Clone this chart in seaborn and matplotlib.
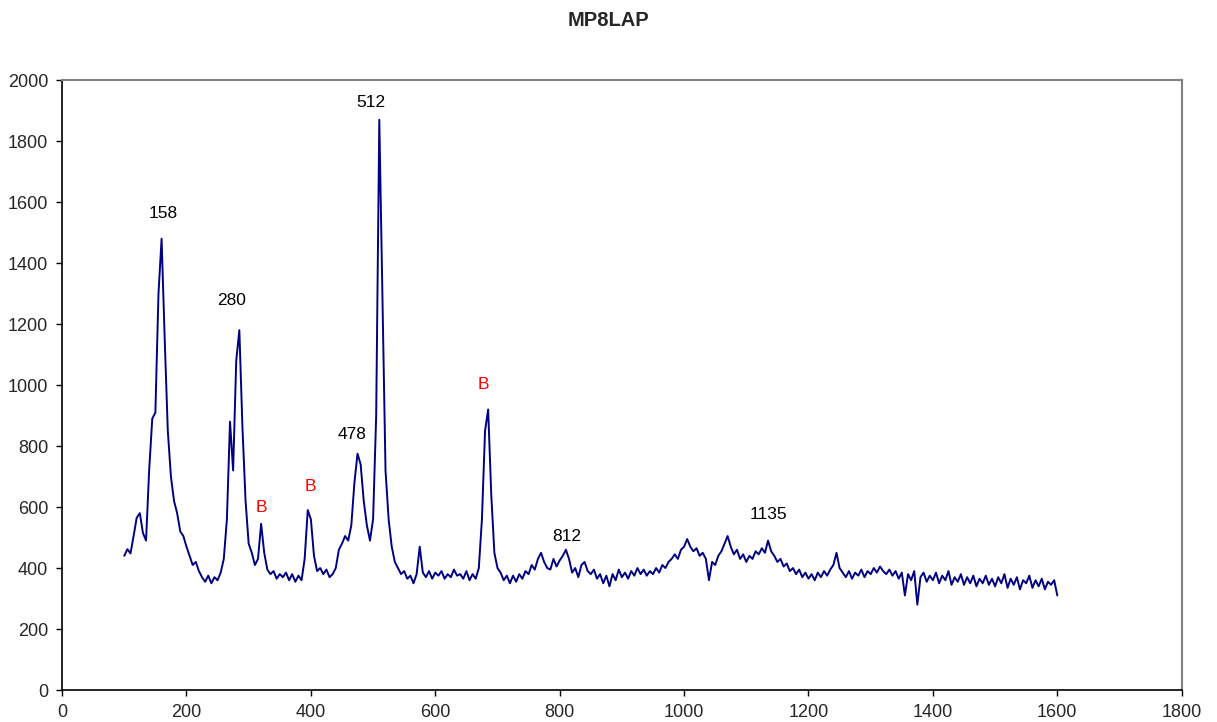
import numpy as np
import pandas as pd
import matplotlib
matplotlib.use("Agg")
import matplotlib.pyplot as plt
import seaborn as sns

# Raman shift grid (cm-1), every 5 units from 100 to 1600
shift = np.arange(100, 1601, 5)

# intensity, one row per 50 cm-1
intensity = [
    440, 462, 448, 505, 565, 580, 515, 490, 720, 890,        # 100
    910, 1300, 1480, 1150, 850, 700, 620, 580, 520, 505,     # 150
    470, 440, 410, 420, 390, 370, 355, 375, 350, 370,        # 200
    360, 385, 430, 560, 880, 720, 1080, 1180, 860, 620,      # 250
    480, 450, 410, 430, 545, 450, 395, 380, 390, 365,        # 300
    380, 370, 385, 360, 380, 355, 375, 360, 430, 590,        # 350
    560, 440, 390, 400, 380, 395, 370, 380, 400, 460,        # 400
    480, 505, 490, 540, 680, 775, 740, 620, 540, 490,        # 450
    560, 900, 1870, 1300, 720, 560, 470, 420, 400, 380,      # 500
    390, 365, 375, 350, 380, 470, 385, 370, 390, 365,        # 550
    385, 375, 390, 365, 380, 370, 395, 375, 380, 365,        # 600
    390, 360, 380, 365, 400, 560, 850, 920, 640, 450,        # 650
    400, 385, 360, 375, 350, 375, 355, 380, 365, 390,        # 700
    380, 410, 395, 430, 450, 420, 400, 395, 430, 405,        # 750
    425, 440, 460, 430, 385, 400, 370, 410, 420, 390,        # 800
    380, 395, 365, 380, 350, 375, 340, 380, 360, 395,        # 850
    370, 385, 365, 390, 375, 400, 380, 395, 375, 390,        # 900
    380, 400, 385, 410, 400, 420, 430, 445, 430, 460,        # 950
    470, 495, 470, 455, 465, 440, 450, 430, 360, 420,        # 1000
    410, 440, 455, 480, 505, 470, 445, 460, 430, 445,        # 1050
    420, 440, 430, 455, 445, 465, 450, 490, 455, 440,        # 1100
    420, 430, 405, 415, 390, 400, 380, 395, 370, 385,        # 1150
    365, 380, 360, 385, 370, 390, 375, 395, 410, 450,        # 1200
    400, 385, 370, 390, 365, 385, 375, 395, 370, 390,        # 1250
    380, 400, 385, 405, 390, 380, 395, 375, 390, 365,        # 1300
    385, 310, 380, 360, 390, 280, 370, 385, 355, 375,        # 1350
    360, 385, 350, 375, 360, 390, 345, 370, 355, 380,        # 1400
    345, 370, 350, 375, 340, 365, 350, 375, 345, 365,        # 1450
    340, 370, 350, 380, 335, 365, 345, 370, 330, 360,        # 1500
    350, 375, 335, 360, 340, 365, 330, 355, 345, 360,        # 1550
    310,                                                     # 1600
]

# peak labels (black) and background bands (red)
peak_labels = ["158", "280", "512", "478", "812", "1135"]
peak_x = [162, 272, 497, 466, 812, 1135]
peak_y = [1564, 1279, 1928, 839, 505, 574]
band_labels = ["B", "B", "B"]
band_x = [320, 399, 678]
band_y = [597, 669, 1003]

x_ticks = list(range(0, 1801, 200))
y_ticks = list(range(0, 2001, 200))

sns.set_theme(style="white")
plt.rcParams["font.family"] = ["Liberation Sans", "DejaVu Sans"]

df = pd.DataFrame({"shift": shift, "intensity": intensity})

fig = plt.figure(figsize=(12.17, 7.22), dpi=100)
ax = fig.add_axes([0.051, 0.0443, 0.92, 0.8447])

sns.lineplot(data=df, x="shift", y="intensity", ax=ax, color="#000080", linewidth=1.4)

for t, x, y in zip(peak_labels, peak_x, peak_y):
    ax.text(x, y, t, ha="center", va="center", fontsize=12.5, color="black")
for t, x, y in zip(band_labels, band_x, band_y):
    ax.text(x, y, t, ha="center", va="center", fontsize=12.5, color="red")

ax.set_xlim(0, 1800)
ax.set_ylim(0, 2000)
ax.set_xticks(x_ticks)
ax.set_yticks(y_ticks)
ax.set_xlabel("")
ax.set_ylabel("")
ax.tick_params(axis="both", direction="out", length=4, width=1, color="black",
               labelsize=13, bottom=True, left=True, pad=6)

for side in ["top", "right"]:
    ax.spines[side].set_color("#808080")
    ax.spines[side].set_linewidth(1.5)
for side in ["left", "bottom"]:
    ax.spines[side].set_color("black")
    ax.spines[side].set_linewidth(1.2)

fig.text(0.5, 0.972, "MP8LAP", ha="center", va="center", fontsize=14.5, fontweight="bold")

fig.savefig("out.png", dpi=100)
